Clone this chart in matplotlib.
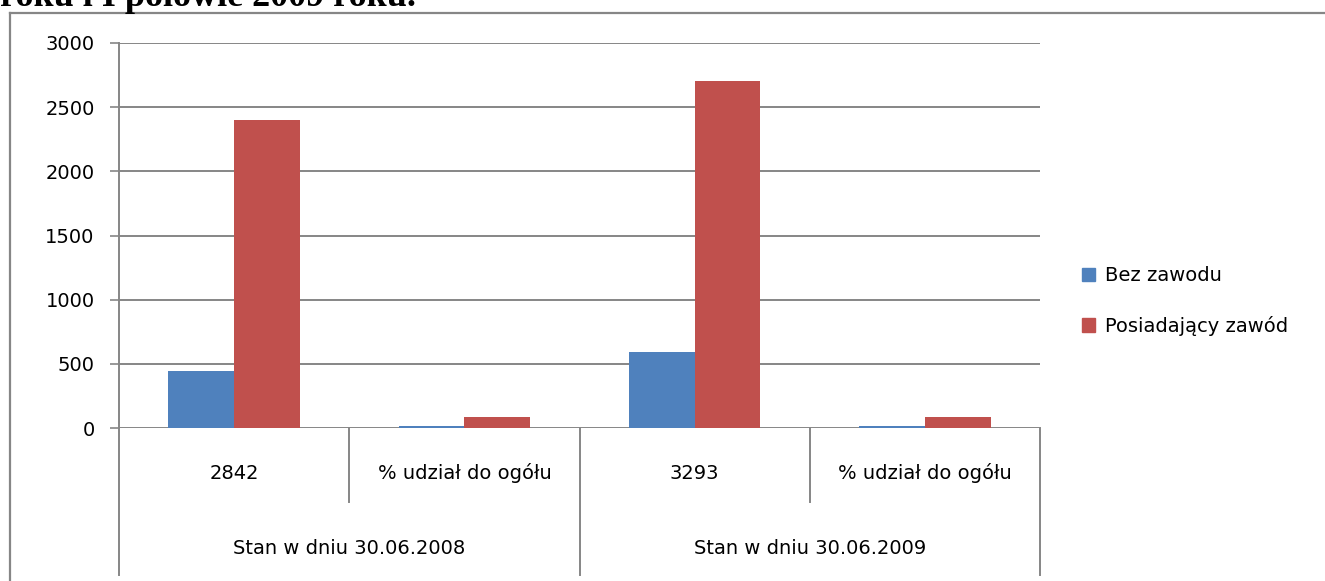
import matplotlib
matplotlib.use('Agg')
import matplotlib.pyplot as plt
import numpy as np
from matplotlib.patches import Patch

plt.rcParams['font.family'] = ['DejaVu Sans']

categories = ['2842', '% udział do ogółu', '3293', '% udział do ogółu']
groups = ['Stan w dniu 30.06.2008', 'Stan w dniu 30.06.2009']
bez_zawodu = [444, 15.6, 592, 18.0]
posiadajacy = [2398, 84.4, 2701, 82.0]
series_names = ['Bez zawodu', 'Posiadający zawód']
colors = ['#4F81BD', '#C0504D']
grid_col = '#868686'

fig = plt.figure(figsize=(13.25, 5.81), dpi=100)
ax = fig.add_axes([119 / 1325, 1 - 428 / 581, (1040 - 119) / 1325, 385 / 581])

x = np.arange(len(categories)) + 0.5
w = 0.2857
ax.bar(x - w / 2, bez_zawodu, w, color=colors[0], zorder=3)
ax.bar(x + w / 2, posiadajacy, w, color=colors[1], zorder=3)

ax.set_xlim(0, 4)
ax.set_ylim(0, 3000)
ax.set_yticks(np.arange(0, 3001, 500))
ax.yaxis.grid(True, color=grid_col, linewidth=1.4, zorder=0)
ax.set_xticks([])
ax.tick_params(axis='y', length=6.5, width=1.2, color=grid_col, labelsize=14, pad=11)
for s in ['top', 'right', 'bottom']:
    ax.spines[s].set_visible(False)
ax.spines['left'].set_color(grid_col)
ax.spines['left'].set_linewidth(1.4)

tr = ax.get_xaxis_transform()
for xi in range(5):
    bottom = -0.192 if xi % 2 else -0.382
    ax.plot([xi, xi], [0, bottom], transform=tr, color=grid_col, lw=1.4, clip_on=False)
for xi, lab in zip(x, categories):
    ax.text(xi, -0.117, lab, transform=tr, ha='center', va='center', fontsize=14)
for gi, lab in enumerate(groups):
    ax.text(gi * 2 + 1, -0.312, lab, transform=tr, ha='center', va='center', fontsize=14)

handles = [Patch(color=c) for c in colors]
fig.legend(handles, series_names, loc='center left', bbox_to_anchor=(1064 / 1325, 1 - 301 / 581),
           frameon=False, fontsize=14, handlelength=0.7, handleheight=0.7, handletextpad=0.5,
           labelspacing=1.55)

# outer frame
fig.add_artist(plt.Line2D([10 / 1325, 1], [1 - 13 / 581] * 2, transform=fig.transFigure, color=grid_col, lw=1.6))
fig.add_artist(plt.Line2D([10 / 1325] * 2, [0, 1 - 13 / 581], transform=fig.transFigure, color=grid_col, lw=1.6))

fig.text(0, 1 - 6 / 581, 'roku i I połowie 2009 roku.', family='Liberation Serif', weight='bold',
         fontsize=26, ha='left', va='baseline')

fig.savefig('out.png', dpi=100)
